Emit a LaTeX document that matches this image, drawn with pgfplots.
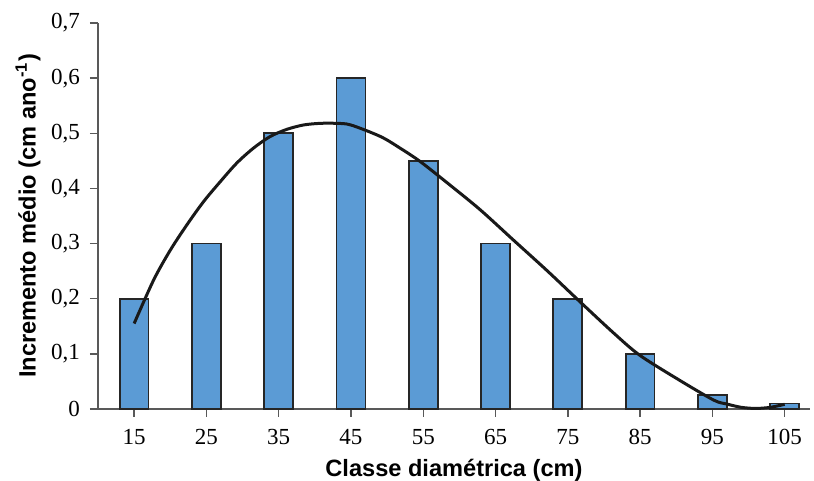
\documentclass[border=0pt]{standalone}
\usepackage{pgfplots}
\pgfplotsset{compat=1.18}
\usepackage{fontspec}
\setmainfont{Liberation Serif}
\setsansfont{Liberation Sans}
\definecolor{barblue}{HTML}{5B9BD5}
\definecolor{edgec}{HTML}{262626}
\definecolor{axisgray}{HTML}{595959}
\begin{document}
\begin{tikzpicture}
\begin{axis}[
  scale only axis, width=356pt, height=193pt,
  xmin=10, xmax=108.5, ymin=0, ymax=0.7,
  axis lines*=left,
  axis line style={axisgray, line width=0.75pt},
  xtick={15,25,35,45,55,65,75,85,95,105},
  ytick={0,0.1,0.2,0.3,0.4,0.5,0.6,0.7},
  minor tick num=0,
  tick align=outside, major tick length=4pt,
  tick style={axisgray, line width=0.75pt},
  /pgf/number format/assume math mode=true,
  ticklabel style={font=\fontsize{11.5}{13}\selectfont},
  xticklabel style={yshift=-2.5pt},
  yticklabel style={xshift=-1.5pt, /pgf/number format/.cd, fixed, precision=1, use comma},
  xlabel={Classe diamétrica (cm)},
  ylabel={Incremento médio (cm ano\textsuperscript{-1})},
  every axis x label/.style={at={(axis description cs:0.5,0)}, anchor=center, yshift=-30.5pt,
    font=\sffamily\bfseries\fontsize{11.8}{13}\selectfont},
  every axis y label/.style={at={(axis description cs:0,0.5)}, xshift=-35pt, anchor=center, rotate=90,
    font=\sffamily\bfseries\fontsize{11.8}{13}\selectfont},
  clip=false,
]
\addplot[ybar, bar width=4, fill=barblue, draw=edgec, line width=0.9pt] coordinates {
  (15,0.2) (25,0.3) (35,0.5) (45,0.6) (55,0.45) (65,0.3) (75,0.2) (85,0.1) (95,0.025) (105,0.01)
};
\addplot[black!90, line width=1.5pt, smooth, tension=0.5, no marks] coordinates {
  (15,0.155) (17.7,0.234) (20,0.288) (22.3,0.334) (24.6,0.376) (26.9,0.412) (29.2,0.446)
  (31.5,0.473) (33.8,0.494) (36.1,0.507) (38.4,0.515) (40.7,0.518) (43,0.518)
  (45,0.515) (49.1,0.494) (51.8,0.473) (54.6,0.4485) (58.8,0.405)
  (62.9,0.361) (67.5,0.306) (72.2,0.250) (76.8,0.193) (81.4,0.137) (85,0.097)
  (90.6,0.051) (95.2,0.016) (97,0.009) (99,0.003) (101,0.001) (103,0.003) (105,0.0085)
};
\coordinate (ll) at (rel axis cs:0,0);
\coordinate (ur) at (rel axis cs:1,1);
\end{axis}
\pgfresetboundingbox
\path ([shift={(-49pt,-36pt)}]ll) rectangle ([shift={(2pt,11.5pt)}]ur);
\end{tikzpicture}
\end{document}
